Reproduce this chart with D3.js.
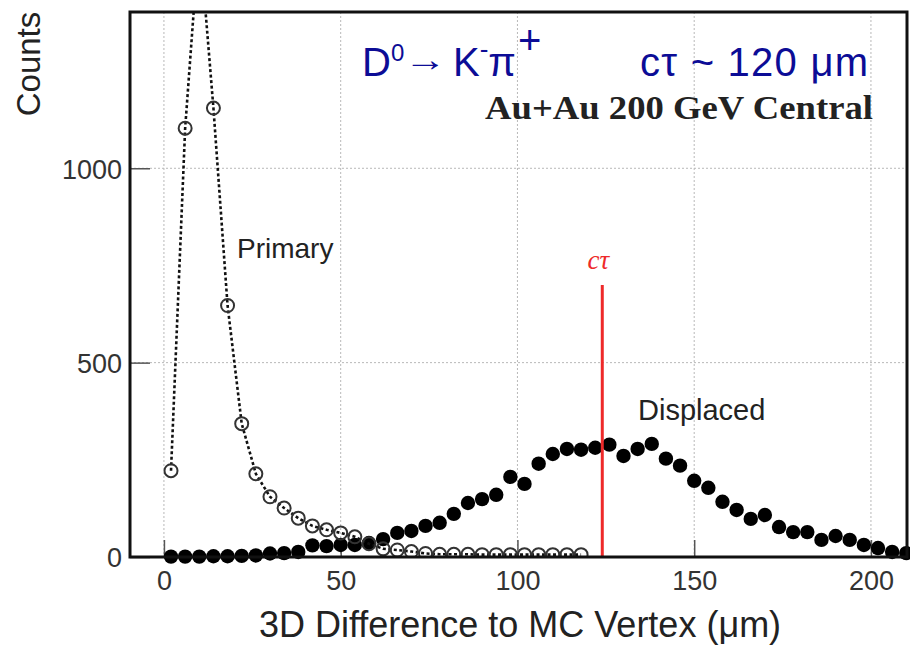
<!DOCTYPE html>
<html>
<head>
<meta charset="utf-8">
<script src="https://cdn.jsdelivr.net/npm/d3@7"></script>
<style>
  html, body { margin: 0; padding: 0; background: #fff; }
  svg { display: block; font-family: "Liberation Sans", Arial, Helvetica, sans-serif; }
</style>
</head>
<body>
<svg id="chart" width="910" height="645"></svg>
<script>
// Bin centres (µm), 4 µm wide bins
const binCentres = d3.range(2, 211, 4);

// Primary-vertex residuals (open circles, bins 2..118 µm)
const primaryCounts = [222, 1103, 1600, 1155, 647, 343, 214, 155, 126, 100,
                       80, 70, 62, 52, 34, 21, 18, 14, 9, 7,
                       7, 7, 6, 6, 6, 6, 6, 6, 6, 6];

// Displaced-vertex residuals (filled circles, bins 2..210 µm)
const displacedCounts = [1, 1, 1, 2, 2, 3, 4, 9, 10, 13,
                         30, 28, 31, 31, 36, 46, 62, 67, 80, 88,
                         111, 139, 149, 160, 206, 188, 240, 265, 278, 276,
                         281, 289, 260, 278, 291, 253, 235, 196, 178, 142,
                         121, 98, 108, 77, 64, 64, 44, 54, 44, 31,
                         23, 13, 10];

const xTicks = [0, 50, 100, 150, 200];
const yTicks = [0, 500, 1000];
const cTauLine = 124;      // position of the cτ marker, µm
const cTauMarkerTop = 700; // height of the cτ marker line, counts

const svg = d3.select("#chart");
const plot = { left: 130, right: 907, top: 12, bottom: 557 };

const x = d3.scaleLinear().domain([-9.6, 210.2]).range([plot.left, plot.right]);
const y = d3.scaleLinear().domain([0, 1402]).range([plot.bottom, plot.top]);

svg.append("defs").append("clipPath").attr("id", "frameClip")
  .append("rect")
  .attr("x", plot.left).attr("y", plot.top)
  .attr("width", plot.right - plot.left).attr("height", plot.bottom - plot.top);

// Grid
const grid = svg.append("g").attr("stroke", "#b8b8b8").attr("stroke-width", 1)
  .attr("stroke-dasharray", "2,2");
grid.selectAll("line.vx").data(xTicks).join("line")
  .attr("x1", d => x(d)).attr("x2", d => x(d))
  .attr("y1", plot.top).attr("y2", plot.bottom);
grid.selectAll("line.hy").data(yTicks.filter(d => d > 0)).join("line")
  .attr("x1", plot.left).attr("x2", plot.right)
  .attr("y1", d => y(d)).attr("y2", d => y(d));

// Axes (ticks drawn inward)
const xAxis = d3.axisBottom(x).tickValues(xTicks).tickFormat(d3.format("d"))
  .tickSizeInner(-17).tickSizeOuter(0).tickPadding(28);
const yAxis = d3.axisLeft(y).tickValues(yTicks).tickFormat(d3.format("d"))
  .tickSizeInner(-20).tickSizeOuter(0).tickPadding(28);

const gx = svg.append("g").attr("transform", `translate(0,${plot.bottom})`).call(xAxis);
gx.select(".domain").remove();
gx.selectAll(".tick line").attr("stroke", "#555").attr("stroke-width", 1.5);
gx.selectAll(".tick text").attr("font-size", 27).attr("fill", "#333").attr("dy", "0.2em");

const gy = svg.append("g").attr("transform", `translate(${plot.left},0)`).call(yAxis);
gy.select(".domain").remove();
gy.selectAll(".tick line").attr("stroke", "#555").attr("stroke-width", 1.5);
gy.selectAll(".tick text").attr("font-size", 27).attr("fill", "#333")
  .attr("x", -8).attr("dy", "0.36em");

// Displaced vertices: filled markers
const displaced = binCentres.map((c, i) => ({ x: c, v: displacedCounts[i] }));
svg.append("g").selectAll("circle").data(displaced).join("circle")
  .attr("cx", d => x(d.x)).attr("cy", d => y(d.v)).attr("r", 7.2)
  .attr("fill", "#000");

// Primary vertices: dotted line and open markers
const primary = primaryCounts.map((v, i) => ({ x: binCentres[i], v }));
const prim = svg.append("g").attr("clip-path", "url(#frameClip)");
prim.append("path").datum(primary)
  .attr("d", d3.line().x(d => x(d.x)).y(d => y(d.v)))
  .attr("fill", "none").attr("stroke", "#111").attr("stroke-width", 2.6)
  .attr("stroke-dasharray", "3,2.5");
prim.selectAll("circle").data(primary).join("circle")
  .attr("cx", d => x(d.x)).attr("cy", d => y(d.v)).attr("r", 6.5)
  .attr("fill", "none").attr("stroke", "#333").attr("stroke-width", 2);

// cτ marker
svg.append("line")
  .attr("x1", x(cTauLine)).attr("x2", x(cTauLine))
  .attr("y1", y(0)).attr("y2", y(cTauMarkerTop))
  .attr("stroke", "#ee2a2a").attr("stroke-width", 3);
svg.append("text")
  .attr("x", x(cTauLine) - 4).attr("y", y(cTauMarkerTop) - 16)
  .attr("text-anchor", "middle")
  .attr("font-family", "'Liberation Serif', 'Times New Roman', serif")
  .attr("font-style", "italic").attr("font-size", 27).attr("fill", "#ee2a2a")
  .text("cτ");

// Frame
svg.append("rect")
  .attr("x", plot.left).attr("y", plot.top)
  .attr("width", plot.right - plot.left).attr("height", plot.bottom - plot.top)
  .attr("fill", "none").attr("stroke", "#111").attr("stroke-width", 3);

// Series labels
svg.append("text").attr("x", 237).attr("y", 258)
  .attr("font-size", 28).attr("fill", "#222").text("Primary");
svg.append("text").attr("x", 638).attr("y", 420)
  .attr("font-size", 29).attr("fill", "#222").text("Displaced");

// Decay channel and cτ
const blue = "#0c0c96";
const parent = svg.append("text").attr("x", 362).attr("y", 76)
  .attr("font-size", 40).attr("fill", blue);
parent.append("tspan").text("D");
parent.append("tspan").attr("font-size", 24).attr("dy", -15).text("0");

// decay arrow, stretched horizontally
svg.append("text").attr("transform", "translate(404,71) scale(1.25,1)")
  .attr("font-size", 34).attr("fill", blue)
  .text("→");

const daughters = svg.append("text").attr("x", 453).attr("y", 76)
  .attr("font-size", 40).attr("fill", blue);
daughters.append("tspan").text("K");
daughters.append("tspan").attr("font-size", 26).attr("dy", -18).text("-");
daughters.append("tspan").attr("dy", 18).text("π");
daughters.append("tspan").attr("dy", -22).attr("dx", 2).text("+");

svg.append("text").attr("x", 640).attr("y", 76)
  .attr("font-size", 40).attr("fill", blue)
  .attr("textLength", 228).attr("lengthAdjust", "spacing")
  .text("cτ ~ 120 μm");

svg.append("text").attr("x", 873).attr("y", 119).attr("text-anchor", "end")
  .attr("font-family", "'Liberation Serif', 'Times New Roman', serif")
  .attr("font-weight", "bold").attr("font-size", 33).attr("fill", "#222")
  .attr("textLength", 388).attr("lengthAdjust", "spacingAndGlyphs")
  .text("Au+Au 200 GeV Central");

// Axis titles
svg.append("text").attr("x", 520).attr("y", 637).attr("text-anchor", "middle")
  .attr("font-size", 36).attr("fill", "#222")
  .text("3D Difference to MC Vertex (μm)");
svg.append("text").attr("transform", "translate(40,64) rotate(-90)")
  .attr("text-anchor", "middle").attr("font-size", 33).attr("fill", "#222")
  .text("Counts");
</script>
</body>
</html>
